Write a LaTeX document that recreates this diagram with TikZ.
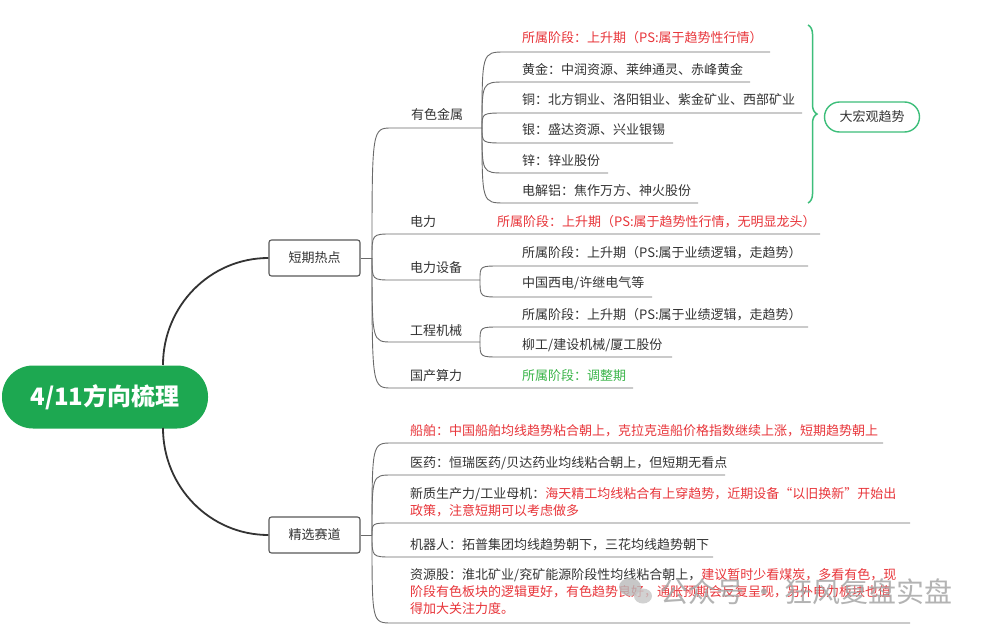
\documentclass[tikz,border=0pt]{standalone}
\usepackage{fontspec}
\setmainfont{Noto Sans CJK SC}
\usetikzlibrary{decorations.pathreplacing,calc}
\definecolor{rootgreen}{HTML}{1DA851}
\definecolor{txtred}{HTML}{E8353A}
\definecolor{txtgreen}{HTML}{3BB54A}
\definecolor{bracegreen}{HTML}{3DBE7A}
\definecolor{linegray}{HTML}{6A6A6A}
\definecolor{txtgray}{HTML}{333333}
\tikzset{
 lbl/.style={anchor=west, inner sep=0pt, text=txtgray, font=\fontsize{13}{17}\selectfont, align=left},
 redlbl/.style={lbl, text=txtred},
 grnlbl/.style={lbl, text=txtgreen},
 br/.style={draw=linegray, line width=0.9pt},
 trunk/.style={draw=black!80, line width=1.8pt},
 topic/.style={draw=black!65, line width=1.1pt, rounded corners=2.5pt, minimum width=91, minimum height=36, inner sep=0pt, fill=white, text=txtgray, font=\fontsize{13}{15}\selectfont},
 rootnode/.style={fill=rootgreen, rounded corners=31pt, minimum width=206, minimum height=63, text=white, font=\fontsize{24}{28}\selectfont\bfseries, inner sep=0pt},
 macronode/.style={draw=bracegreen, line width=1.4pt, rounded corners=15pt, minimum width=95, minimum height=30, text=txtgray, font=\fontsize{13}{15}\selectfont, inner sep=0pt},
 wmark/.style={anchor=west, inner sep=0pt, text=gray!70, opacity=0.85, font=\fontsize{28}{30}\selectfont},
}
\newcommand{\mmbranch}[3]{\draw[br] (#1) .. controls (#1 |- #2) .. (#2) -- (#3);}
\begin{document}
\begin{tikzpicture}[x=1pt,y=-1pt]
\fill[white] (0,0) rectangle (989,632);
\useasboundingbox (0,0) rectangle (989,632);

% root and topics
\node[rootnode] (root) at (105,397) {4/11方向梳理};
\node[topic] (hot) at (314.5,258) {短期热点};
\node[topic] (sel) at (314.5,535) {精选赛道};
\coordinate (r1) at (163,365);
\coordinate (r2) at (163,428);
\draw[trunk] (r1) .. controls (163,306) and (210,258) .. (hot.west);
\draw[trunk] (r2) .. controls (163,487) and (210,535) .. (sel.west);

% ---------- short-term hot spots ----------
\coordinate (J1) at (372,258);
\draw[br] (hot.east) -- (J1);

\node[lbl] (ys) at (411,115) {有色金属};
\coordinate (ysS) at (392,128); \coordinate (J2) at (482,128);
\mmbranch{J1}{ysS}{J2}

\node[redlbl] (c1) at (522,38) {所属阶段：上升期（PS:属于趋势性行情）};
\node[lbl] (c2) at (522,70) {黄金：中润资源、莱绅通灵、赤峰黄金};
\node[lbl] (c3) at (522,100) {铜：北方铜业、洛阳钼业、紫金矿业、西部矿业};
\node[lbl] (c4) at (522,130) {银：盛达资源、兴业银锡};
\node[lbl] (c5) at (522,161) {锌：锌业股份};
\node[lbl] (c6) at (522,191) {电解铝：焦作万方、神火股份};
\coordinate (c1S) at (505,52);  \coordinate (c1E) at (770,52);
\coordinate (c2S) at (505,82);  \coordinate (c2E) at (750,82);
\coordinate (c3S) at (505,113); \coordinate (c3E) at (802,113);
\coordinate (c4S) at (505,143); \coordinate (c4E) at (673,143);
\coordinate (c5S) at (505,173); \coordinate (c5E) at (608,173);
\coordinate (c6S) at (505,203); \coordinate (c6E) at (698,203);
\mmbranch{J2}{c1S}{c1E}
\mmbranch{J2}{c2S}{c2E}
\mmbranch{J2}{c3S}{c3E}
\mmbranch{J2}{c4S}{c4E}
\mmbranch{J2}{c5S}{c5E}
\mmbranch{J2}{c6S}{c6E}

% brace and macro trend
\coordinate (bt) at (808,25); \coordinate (bb) at (808,203);
\draw[bracegreen, line width=1.5pt, decorate, decoration={brace, amplitude=9pt}] (bt) -- (bb);
\node[macronode] (macro) at (872,117) {大宏观趋势};

\node[lbl] (dl) at (410,222) {电力};
\node[redlbl] (dlc) at (497,222) {所属阶段：上升期（PS:属于趋势性行情，无明显龙头）};
\coordinate (dlS) at (392,234); \coordinate (dlE) at (820,234);
\mmbranch{J1}{dlS}{dlE}

\node[lbl] (sb) at (410,268) {电力设备};
\coordinate (sbS) at (392,280); \coordinate (J3) at (480,280);
\mmbranch{J1}{sbS}{J3}
\node[lbl] (sb1) at (522,253) {所属阶段：上升期（PS:属于业绩逻辑，走趋势）};
\node[lbl] (sb2) at (522,283) {中国西电/许继电气等};
\coordinate (sb1S) at (500,266); \coordinate (sb1E) at (808,266);
\coordinate (sb2S) at (500,297); \coordinate (sb2E) at (652,297);
\mmbranch{J3}{sb1S}{sb1E}
\mmbranch{J3}{sb2S}{sb2E}

\node[lbl] (gc) at (410,331) {工程机械};
\coordinate (gcS) at (392,342); \coordinate (J4) at (480,342);
\mmbranch{J1}{gcS}{J4}
\node[lbl] (gc1) at (522,315) {所属阶段：上升期（PS:属于业绩逻辑，走趋势）};
\node[lbl] (gc2) at (522,345) {柳工/建设机械/厦工股份};
\coordinate (gc1S) at (500,327); \coordinate (gc1E) at (808,327);
\coordinate (gc2S) at (500,357); \coordinate (gc2E) at (672,357);
\mmbranch{J4}{gc1S}{gc1E}
\mmbranch{J4}{gc2S}{gc2E}

\node[lbl] (sl) at (410,376) {国产算力};
\node[grnlbl] (slc) at (522,376) {所属阶段：调整期};
\coordinate (slS) at (392,388); \coordinate (slE) at (633,388);
\mmbranch{J1}{slS}{slE}

% ---------- selected tracks ----------
\coordinate (J5) at (372,535);
\draw[br] (sel.east) -- (J5);

\node[redlbl] (cb) at (410,431) {船舶：中国船舶均线趋势粘合朝上，克拉克造船价格指数继续上涨，短期趋势朝上};
\coordinate (cbS) at (392,443); \coordinate (cbE) at (883,443);
\mmbranch{J5}{cbS}{cbE}

\node[lbl] (yy) at (410,463) {医药：恒瑞医药/贝达药业均线粘合朝上，但短期无看点};
\coordinate (yyS) at (392,475); \coordinate (yyE) at (725,475);
\mmbranch{J5}{yyS}{yyE}

\node[lbl] (xz) at (410,502.5) {新质生产力/工业母机：\textcolor{txtred}{海天精工均线粘合有上穿趋势，近期设备“以旧换新”开始出}\\\textcolor{txtred}{政策，注意短期可以考虑做多}};
\coordinate (xzS) at (392,523); \coordinate (xzE) at (910,523);
\mmbranch{J5}{xzS}{xzE}

\node[lbl] (jq) at (410,545) {机器人：拓普集团均线趋势朝下，三花均线趋势朝下};
\coordinate (jqS) at (392,557); \coordinate (jqE) at (713,557);
\mmbranch{J5}{jqS}{jqE}

\node[lbl] (zy) at (410,592) {资源股：淮北矿业/兖矿能源阶段性均线粘合朝上，\textcolor{txtred}{建议暂时少看煤炭，多看有色，现}\\\textcolor{txtred}{阶段有色板块的逻辑更好，有色趋势良好，通胀预期会反复呈现，另外电力板块也值}\\\textcolor{txtred}{得加大关注力度。}};
\coordinate (zyS) at (392,623); \coordinate (zyE) at (910,623);
\mmbranch{J5}{zyS}{zyE}

% watermark
\fill[gray!55, opacity=0.8] (630,587) ellipse (11 and 9);
\fill[gray!45, opacity=0.8] (643,596) ellipse (9 and 7.5);
\node[wmark] (wm) at (660,592) {公众号 · 狂风复盘实盘};
\end{tikzpicture}
\end{document}
